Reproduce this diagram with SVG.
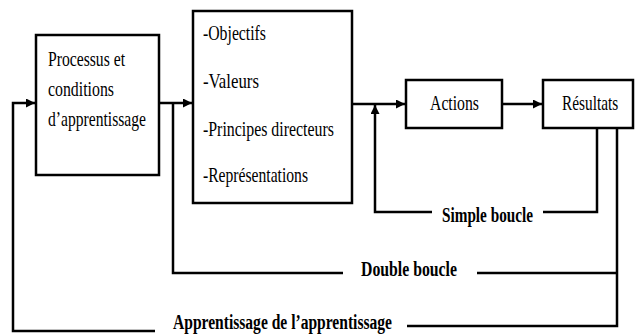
<svg xmlns="http://www.w3.org/2000/svg" width="635" height="336" viewBox="0 0 635 336">
<style>
.box{fill:#fff;stroke:#000;stroke-width:2.5}
.t{font-family:"Liberation Serif","Times New Roman",serif;font-size:21px;fill:#000}
.b{font-family:"Liberation Serif","Times New Roman",serif;font-size:20px;font-weight:bold;fill:#000}
.c{fill:none;stroke:#000;stroke-width:2.5}
</style>
<defs>
<marker id="ah" viewBox="0 0 10 10" refX="10" refY="5" markerWidth="9" markerHeight="9" markerUnits="userSpaceOnUse" orient="auto">
<path d="M0,0 L10,5 L0,10 z" fill="#000"/>
</marker>
</defs>
<rect width="635" height="336" fill="#fff"/>
<g id="connectors">
<path class="c" d="M155,331 H13 V103 H35" marker-end="url(#ah)"/>
<path class="c" d="M407,326 H617 V128"/>
<path class="c" d="M159,103 H192" marker-end="url(#ah)"/>
<path class="c" d="M173,103 V273 H343"/>
<path class="c" d="M477,273 H617"/>
<path class="c" d="M352,104 H405" marker-end="url(#ah)"/>
<path class="c" d="M432,212 H375 V105" marker-end="url(#ah)"/>
<path class="c" d="M543,212 H597 V128"/>
<path class="c" d="M502,104 H542" marker-end="url(#ah)"/>
</g>
<g id="processus">
<rect class="box" x="36" y="35" width="123" height="140"/>
<text class="t" x="48" y="66" textLength="77" lengthAdjust="spacingAndGlyphs">Processus et</text>
<text class="t" x="48" y="96" textLength="66" lengthAdjust="spacingAndGlyphs">conditions</text>
<text class="t" x="48" y="126" textLength="98" lengthAdjust="spacingAndGlyphs">d’apprentissage</text>
</g>
<g id="objectifs">
<rect class="box" x="193" y="11" width="159" height="192"/>
<text class="t" x="203" y="40" textLength="63" lengthAdjust="spacingAndGlyphs">-Objectifs</text>
<text class="t" x="203" y="88" textLength="56" lengthAdjust="spacingAndGlyphs">-Valeurs</text>
<text class="t" x="203" y="136" textLength="131" lengthAdjust="spacingAndGlyphs">-Principes directeurs</text>
<text class="t" x="203" y="182" textLength="105" lengthAdjust="spacingAndGlyphs">-Représentations</text>
</g>
<g id="actions">
<rect class="box" x="406" y="80" width="96" height="48"/>
<text class="t" x="430" y="110" textLength="49" lengthAdjust="spacingAndGlyphs">Actions</text>
</g>
<g id="resultats">
<rect class="box" x="543" y="80" width="90" height="48"/>
<text class="t" transform="translate(562,110) scale(0.73,1)" x="0" y="0">Résultats</text>
</g>
<g id="labels">
<text class="b" x="442" y="222" textLength="91" lengthAdjust="spacingAndGlyphs">Simple boucle</text>
<text class="b" x="361" y="276" textLength="96" lengthAdjust="spacingAndGlyphs">Double boucle</text>
<text class="b" x="173" y="329" textLength="219" lengthAdjust="spacingAndGlyphs">Apprentissage de l’apprentissage</text>
</g>
</svg>
